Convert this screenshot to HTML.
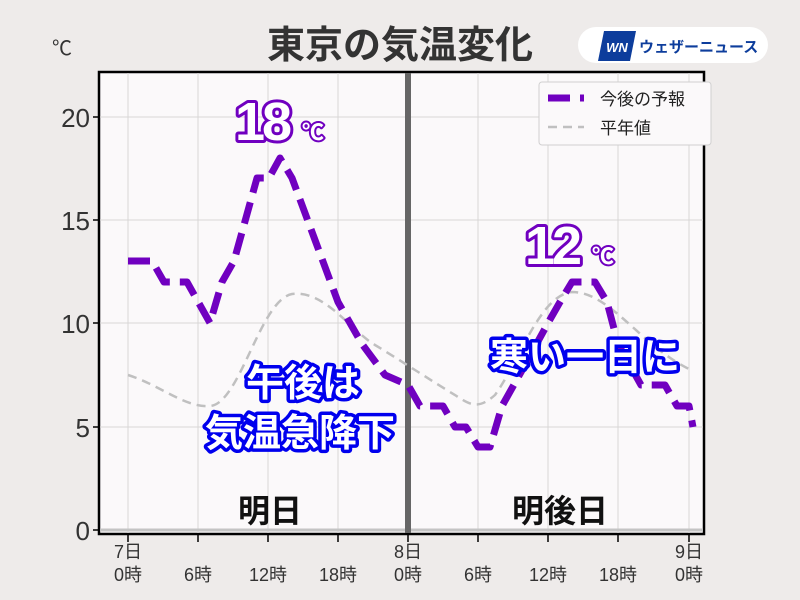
<!DOCTYPE html>
<html><head><meta charset="utf-8"><style>
body{margin:0;background:#eeebea;}
svg{display:block;font-family:"Liberation Sans","Noto Sans CJK JP",sans-serif;}
</style></head><body>
<svg width="800" height="600" viewBox="0 0 800 600">
<rect width="800" height="600" fill="#eeebea"/>
<text x="400" y="58" text-anchor="middle" font-size="38" font-weight="bold" fill="#333">東京の気温変化</text>
<text x="52" y="55" font-size="20" fill="#333">℃</text>
<rect x="578" y="27" width="190" height="36" rx="18" fill="#fff"/>
<polygon points="604,31 636,31 630,61 598,61" fill="#0d3d9c"/>
<text x="617" y="52" text-anchor="middle" font-size="13" font-weight="bold" font-style="italic" fill="#fff">WN</text>
<text x="639" y="52" font-size="15" font-weight="bold" fill="#0d3d9c">ウェザーニュース</text>
<rect x="99" y="72" width="605" height="462" fill="#fbf9fa" stroke="#000" stroke-width="2.5"/>
<g stroke="#d8d6d6" stroke-width="1">
<line x1="128" y1="73" x2="128" y2="533"/><line x1="198" y1="73" x2="198" y2="533"/><line x1="268" y1="73" x2="268" y2="533"/><line x1="338" y1="73" x2="338" y2="533"/><line x1="478" y1="73" x2="478" y2="533"/><line x1="548" y1="73" x2="548" y2="533"/><line x1="618" y1="73" x2="618" y2="533"/><line x1="689" y1="73" x2="689" y2="533"/>
<line x1="100" y1="117" x2="703" y2="117"/><line x1="100" y1="220" x2="703" y2="220"/><line x1="100" y1="323" x2="703" y2="323"/><line x1="100" y1="427" x2="703" y2="427"/>
</g>
<line x1="100" y1="530" x2="703" y2="530" stroke="#c4c4c4" stroke-width="3"/>
<line x1="408" y1="73" x2="408" y2="533" stroke="#666" stroke-width="6"/>
<g stroke="#000" stroke-width="1.5">
<line x1="93" y1="117" x2="99" y2="117"/><line x1="93" y1="220" x2="99" y2="220"/><line x1="93" y1="323" x2="99" y2="323"/><line x1="93" y1="427" x2="99" y2="427"/><line x1="93" y1="530" x2="99" y2="530"/>
<line x1="128" y1="535" x2="128" y2="542"/><line x1="198" y1="535" x2="198" y2="542"/><line x1="268" y1="535" x2="268" y2="542"/><line x1="338" y1="535" x2="338" y2="542"/><line x1="408" y1="535" x2="408" y2="542"/><line x1="478" y1="535" x2="478" y2="542"/><line x1="548" y1="535" x2="548" y2="542"/><line x1="618" y1="535" x2="618" y2="542"/><line x1="689" y1="535" x2="689" y2="542"/>
</g>
<g fill="#333" font-size="26" text-anchor="end">
<text x="90" y="127">20</text><text x="90" y="230">15</text><text x="90" y="333">10</text><text x="90" y="437">5</text><text x="90" y="540">0</text>
</g>
<g fill="#333" font-size="18" text-anchor="middle">
<text x="128" y="558">7日</text><text x="408" y="558">8日</text><text x="689" y="558">9日</text>
<text x="128" y="581">0時</text><text x="198" y="581">6時</text><text x="268" y="581">12時</text><text x="338" y="581">18時</text><text x="408" y="581">0時</text><text x="478" y="581">6時</text><text x="548" y="581">12時</text><text x="618" y="581">18時</text><text x="689" y="581">0時</text>
</g>
<path d="M128,375 C160,385 185,408 210,406 C240,404 260,300 292,294 C325,290 350,330 375,345 C400,360 430,380 455,395 C470,405 478,410 495,395 C520,360 540,295 572,292 C610,292 640,345 689,369" fill="none" stroke="#c0c0c0" stroke-width="2.5" stroke-dasharray="9,6"/>
<polyline points="128,261 152,261 164,282 187,282 210,323 222,282 234,261 257,178 269,178 280,158 292,178 315,240 338,302 362,344 385,375 408,385 420,406 443,406 455,427 466,427 478,447 490,447 502,406 525,365 548,323 560,302 572,282 595,282 607,302 618,344 641,385 653,385 665,385 677,406 689,406 693,427" fill="none" stroke="#7000c0" stroke-width="7" stroke-dasharray="22,10" stroke-linejoin="round"/>
<rect x="539" y="82" width="172" height="63" rx="3" fill="#fbf9fa" stroke="#d0d0d0"/>
<line x1="548" y1="98" x2="584" y2="98" stroke="#7000c0" stroke-width="7" stroke-dasharray="22,10"/>
<line x1="548" y1="127" x2="584" y2="127" stroke="#c0c0c0" stroke-width="2.5" stroke-dasharray="9,6"/>
<text x="600" y="105" font-size="17" fill="#222">今後の予報</text>
<text x="600" y="134" font-size="17" fill="#222">平年値</text>
<g font-weight="bold" paint-order="stroke" stroke-linejoin="round">
<text x="235" y="140" font-size="54" fill="#fff" stroke="#7000c0" stroke-width="6" letter-spacing="-3">18</text>
<text x="302" y="140" font-size="22" fill="#fff" stroke="#7000c0" stroke-width="4">℃</text>
<text x="525" y="264" font-size="54" fill="#fff" stroke="#7000c0" stroke-width="6" letter-spacing="-3">12</text>
<text x="592" y="264" font-size="22" fill="#fff" stroke="#7000c0" stroke-width="4">℃</text>
<text x="303" y="396" font-size="38" text-anchor="middle" fill="#fff" stroke="#0000ee" stroke-width="7">午後は</text>
<text x="300" y="446" font-size="38" text-anchor="middle" fill="#fff" stroke="#0000ee" stroke-width="7">気温急降下</text>
<text x="585" y="370" font-size="38" text-anchor="middle" fill="#fff" stroke="#0000ee" stroke-width="7">寒い一日に</text>
</g>
<text x="270" y="522" font-size="32" font-weight="bold" text-anchor="middle" fill="#111">明日</text>
<text x="560" y="522" font-size="32" font-weight="bold" text-anchor="middle" fill="#111">明後日</text>
</svg>
</body></html>
